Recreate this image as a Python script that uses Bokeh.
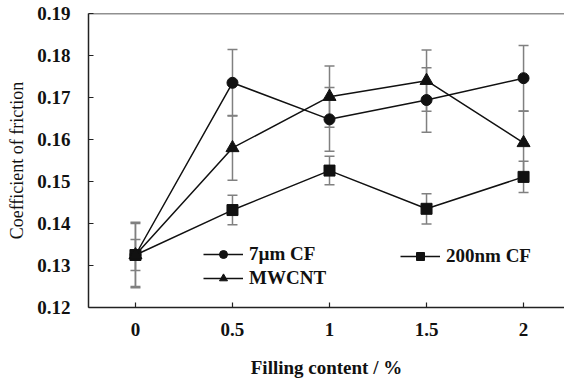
from bokeh.plotting import figure
from bokeh.models import (ColumnDataSource, Whisker, TeeHead, Legend, LegendItem,
                          Span, FixedTicker, Range1d)
from bokeh.embed import file_html
from bokeh.resources import INLINE

# ---- data ----
fill = [0, 0.5, 1, 1.5, 2]
x_tick_labels = ["0", "0.5", "1", "1.5", "2"]
y_ticks = [0.12, 0.13, 0.14, 0.15, 0.16, 0.17, 0.18, 0.19]

cf7 = [0.1325, 0.1735, 0.1648, 0.1694, 0.1746]
cf7_err = [0.0075, 0.0079, 0.0076, 0.0077, 0.0078]

nm200 = [0.1325, 0.1432, 0.1526, 0.1435, 0.1511]
nm200_err = [0.0078, 0.0035, 0.0034, 0.0036, 0.0037]

mwcnt = [0.1325, 0.1580, 0.1702, 0.1740, 0.1592]
mwcnt_err = [0.0037, 0.0077, 0.0073, 0.0073, 0.0075]

series = [
    ("7µm CF", cf7, cf7_err, "circle", 11),
    ("200nm CF", nm200, nm200_err, "square", 11),
    ("MWCNT", mwcnt, mwcnt_err, "triangle", 13),
]

FONT = "Liberation Serif"
INK = "#111111"
ERR = "#808080"

p = figure(width=564, height=384, output_backend="svg", toolbar_location=None,
           x_range=Range1d(-0.242, 2.211), y_range=Range1d(0.12, 0.19),
           min_border_left=88, min_border_top=13, min_border_bottom=77,
           min_border_right=0)
p.outline_line_color = None
p.xgrid.grid_line_color = None
p.ygrid.grid_line_color = None
p.background_fill_color = "white"
p.border_fill_color = "white"

# axes
for ax in (p.xaxis[0], p.yaxis[0]):
    ax.axis_line_color = "#222222"
    ax.axis_line_width = 1.5
    ax.major_tick_in = 5
    ax.major_tick_out = 0
    ax.major_tick_line_color = "#222222"
    ax.major_tick_line_width = 1.2
    ax.minor_tick_line_color = None
    ax.major_label_text_font = FONT
    ax.major_label_text_font_style = "bold"
    ax.major_label_text_font_size = "19px"
    ax.major_label_text_color = INK
    ax.axis_label_text_font = FONT
    ax.axis_label_text_color = INK

p.xaxis.ticker = FixedTicker(ticks=fill)
p.xaxis.major_label_overrides = {t: l for t, l in zip(fill, x_tick_labels)}
p.xaxis.major_label_standoff = 15
p.xaxis.axis_label = "Filling content / %"
p.xaxis.axis_label_text_font_style = "bold"
p.xaxis.axis_label_text_font_size = "19px"
p.xaxis.axis_label_standoff = 18

p.yaxis.ticker = FixedTicker(ticks=y_ticks)
p.yaxis.major_label_overrides = {t: f"{t:.2f}" for t in y_ticks}
p.yaxis.major_label_standoff = 18
p.yaxis.axis_label = "Coefficient of friction"
p.yaxis.axis_label_text_font_style = "normal"
p.yaxis.axis_label_text_font_size = "18px"
p.yaxis.axis_label_standoff = 7

# top frame line
p.add_layout(Span(location=0.19, dimension="width", line_color="#222222", line_width=1.5))

items = {}
for name, ys, errs, marker, size in series:
    src = ColumnDataSource(dict(
        x=fill, y=ys,
        lo=[y - e for y, e in zip(ys, errs)],
        hi=[y + e for y, e in zip(ys, errs)]))
    w = Whisker(source=src, base="x", upper="hi", lower="lo",
                line_color=ERR, line_width=1.5, level="underlay",
                upper_head=TeeHead(size=10, line_color=ERR, line_width=1.5),
                lower_head=TeeHead(size=10, line_color=ERR, line_width=1.5))
    p.add_layout(w)
for name, ys, errs, marker, size in series:
    src = ColumnDataSource(dict(x=fill, y=ys))
    ln = p.line("x", "y", source=src, line_color=INK, line_width=1.5)
    sc = p.scatter("x", "y", source=src, marker=marker, size=size,
                   fill_color=INK, line_color=INK)
    items[name] = LegendItem(label=name, renderers=[ln, sc])

def make_legend(its, loc):
    lg = Legend(items=its, location=loc, padding=0, margin=0, spacing=2,
                border_line_color=None, background_fill_alpha=0,
                glyph_width=40, glyph_height=20, label_height=20,
                label_standoff=6, label_text_font=FONT,
                label_text_font_style="bold", label_text_font_size="19px",
                label_text_color=INK)
    return lg

p.add_layout(make_legend([items["7µm CF"], items["MWCNT"]], (115, 18)))
p.add_layout(make_legend([items["200nm CF"]], (312, 40)))

open("out.html", "w").write(file_html(p, INLINE))
